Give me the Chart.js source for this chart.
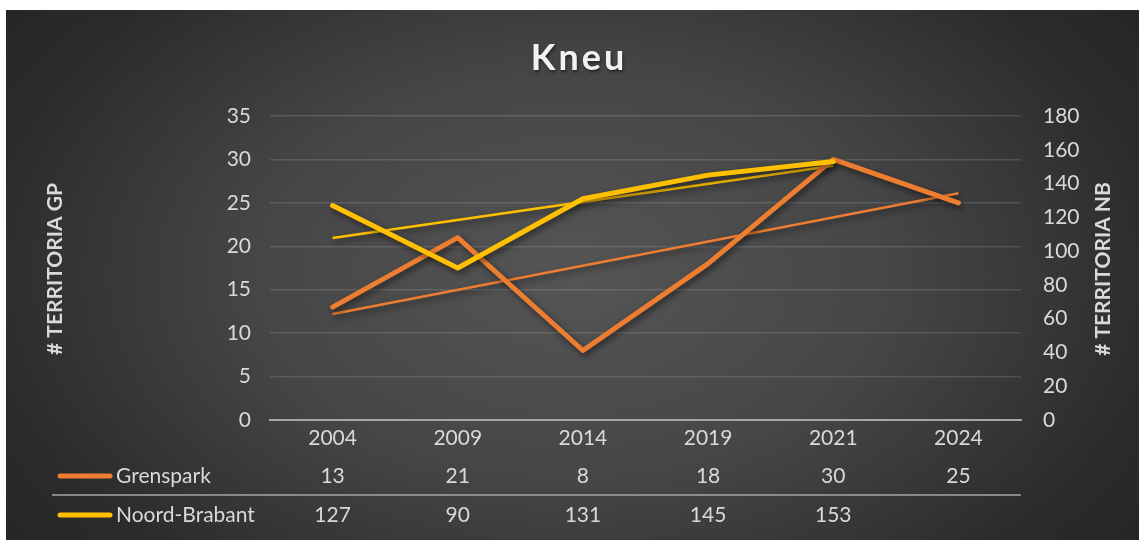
<!DOCTYPE html>
<html>
<head>
<meta charset="utf-8">
<script src="https://cdn.jsdelivr.net/npm/chart.js@4"></script>
<style>
  html, body { margin: 0; background: #fff; }
  #paneel {
    position: absolute; left: 6px; top: 10px; width: 1133px; height: 530px;
    background: radial-gradient(ellipse 62% 85% at 50% 50%, #555555 0%, #464646 45%, #2b2b2b 85%, #262626 100%);
  }
</style>
</head>
<body>
<div id="paneel"><canvas id="grafiek" width="1133" height="530"></canvas></div>
<script>
// gegevens
const jaren = ['2004', '2009', '2014', '2019', '2021', '2024'];
const grenspark = [13, 21, 8, 18, 30, 25];
const noordBrabant = [127, 90, 131, 145, 153, null];
const trendGrenspark = [12.2, null, null, null, null, 26.1];
const trendNoordBrabant = [107.8, null, null, null, 150.6, null];

const oranje = '#ED7D31';
const geel = '#FFC000';
const tekstKleur = '#d9d9d9';
const lettertype = 'Lato, "Open Sans", sans-serif';

const schaduw = {
  id: 'schaduw',
  beforeDatasetDraw(chart) {
    const ctx = chart.ctx;
    ctx.save();
    ctx.shadowColor = 'rgba(0,0,0,0.55)';
    ctx.shadowBlur = 6;
    ctx.shadowOffsetX = 2;
    ctx.shadowOffsetY = 3;
  },
  afterDatasetDraw(chart) {
    chart.ctx.restore();
  }
};

// titel, astitels en de gegevenstabel onder de grafiek
const extra = {
  id: 'extra',
  afterDraw(chart) {
    const ctx = chart.ctx;
    const x = chart.scales.x;
    ctx.save();

    // titel
    ctx.font = 'bold 36px ' + lettertype;
    ctx.letterSpacing = '3px';
    ctx.fillStyle = '#f2f2f2';
    ctx.textAlign = 'center';
    ctx.textBaseline = 'alphabetic';
    ctx.shadowColor = 'rgba(0,0,0,0.5)';
    ctx.shadowBlur = 3;
    ctx.shadowOffsetX = 1;
    ctx.shadowOffsetY = 2;
    ctx.fillText('Kneu', 573, 60);
    ctx.letterSpacing = '0px';
    ctx.shadowColor = 'transparent';

    // astitels
    ctx.font = 'bold 21px ' + lettertype;
    ctx.fillStyle = tekstKleur;
    ctx.textBaseline = 'middle';
    [['# TERRITORIA GP', 49], ['# TERRITORIA NB', 1097]].forEach(([t, px]) => {
      ctx.save();
      ctx.translate(px, 259);
      ctx.rotate(-Math.PI / 2);
      ctx.fillText(t, 0, 0);
      ctx.restore();
    });

    // tabel
    const rijen = [
      { naam: 'Grenspark', waarden: grenspark, kleur: oranje, y: 466 },
      { naam: 'Noord-Brabant', waarden: noordBrabant, kleur: geel, y: 505 }
    ];
    ctx.font = '21px ' + lettertype;
    rijen.forEach(r => {
      ctx.strokeStyle = r.kleur;
      ctx.lineWidth = 5;
      ctx.lineCap = 'round';
      ctx.beginPath();
      ctx.moveTo(54, r.y);
      ctx.lineTo(104, r.y);
      ctx.stroke();
      ctx.fillStyle = tekstKleur;
      ctx.textAlign = 'left';
      ctx.fillText(r.naam, 110, r.y);
      ctx.textAlign = 'center';
      r.waarden.forEach((v, i) => {
        if (v !== null) ctx.fillText(String(v), x.getPixelForValue(i), r.y);
      });
    });
    ctx.strokeStyle = '#a6a6a6';
    ctx.lineWidth = 1.5;
    ctx.lineCap = 'butt';
    ctx.beginPath();
    ctx.moveTo(46, 485);
    ctx.lineTo(x.right, 485);
    ctx.stroke();
    ctx.restore();
  }
};

const tickFont = { family: lettertype, size: 21 };

new Chart(document.getElementById('grafiek'), {
  type: 'line',
  data: {
    labels: jaren,
    datasets: [
      {
        label: 'Noord-Brabant',
        data: noordBrabant,
        yAxisID: 'y1',
        borderColor: geel,
        borderWidth: 5,
        borderCapStyle: 'round',
        borderJoinStyle: 'round',
        pointRadius: 0,
        order: 0
      },
      {
        label: 'Grenspark',
        data: grenspark,
        yAxisID: 'y',
        borderColor: oranje,
        borderWidth: 5,
        borderCapStyle: 'round',
        borderJoinStyle: 'round',
        pointRadius: 0,
        order: 1
      },
      {
        label: 'Trend Noord-Brabant',
        data: trendNoordBrabant,
        yAxisID: 'y1',
        borderColor: geel,
        borderWidth: 2.5,
        pointRadius: 0,
        spanGaps: true,
        order: 2
      },
      {
        label: 'Trend Grenspark',
        data: trendGrenspark,
        yAxisID: 'y',
        borderColor: oranje,
        borderWidth: 2.5,
        pointRadius: 0,
        spanGaps: true,
        order: 3
      }
    ]
  },
  options: {
    responsive: false,
    animation: false,
    layout: { padding: { top: 106, left: 0, right: 0, bottom: 0 } },
    plugins: {
      legend: { display: false },
      title: { display: false },
      tooltip: { enabled: false }
    },
    scales: {
      x: {
        offset: true,
        grid: { display: false, drawTicks: false },
        border: { color: '#a6a6a6', width: 2 },
        ticks: { color: tekstKleur, font: tickFont, padding: 6 },
        afterFit: s => { s.height = 120; }
      },
      y: {
        position: 'left',
        min: 0, max: 35,
        ticks: { stepSize: 5, color: tekstKleur, font: tickFont, padding: 19 },
        grid: { color: 'rgba(255,255,255,0.13)', lineWidth: 1.5, drawTicks: false },
        border: { display: false },
        afterFit: s => { s.width = 264; }
      },
      y1: {
        position: 'right',
        min: 0, max: 180,
        ticks: { stepSize: 20, color: tekstKleur, font: tickFont, padding: 22 },
        grid: { display: false, drawTicks: false },
        border: { display: false },
        afterFit: s => { s.width = 118; }
      }
    }
  },
  plugins: [schaduw, extra]
});
</script>
</body>
</html>
